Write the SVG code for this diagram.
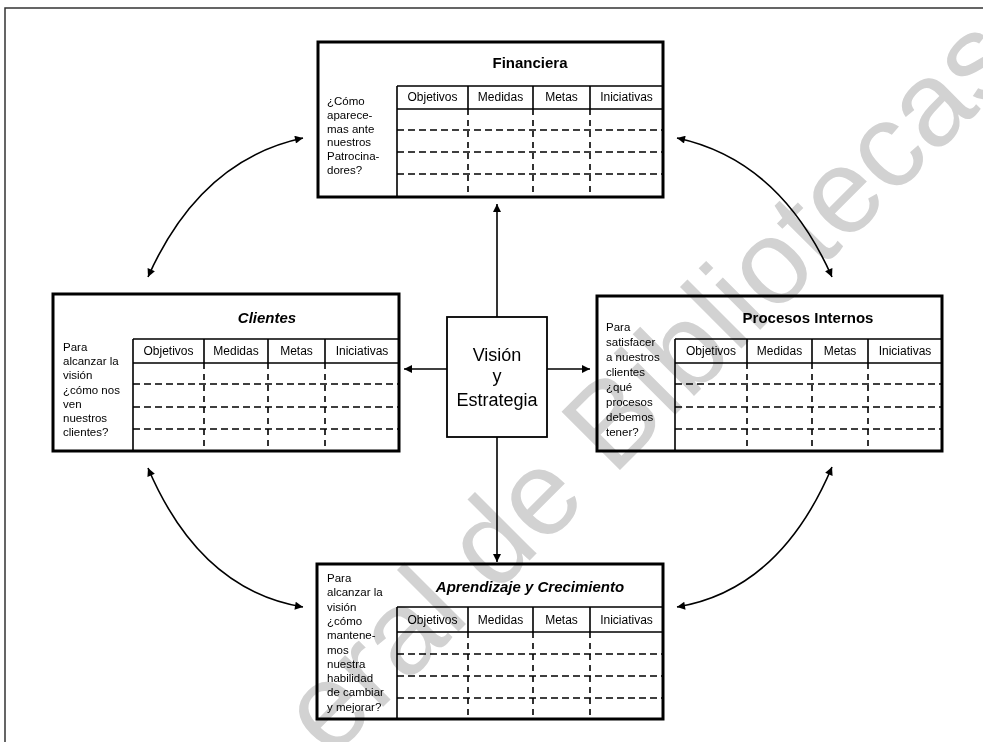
<svg xmlns="http://www.w3.org/2000/svg" width="983" height="742" viewBox="0 0 983 742">
<style>
.box{fill:#fff;stroke:#000;stroke-width:3}
.sol{stroke:#000;stroke-width:1.6;fill:none}
.dh{stroke:#000;stroke-width:1.6;stroke-dasharray:7 4;fill:none}
.dv{stroke:#000;stroke-width:1.6;stroke-dasharray:6 5;fill:none}
.ttl{font-family:"Liberation Sans",Arial,sans-serif;font-size:15px;font-weight:bold;text-anchor:middle;fill:#000}
.hd{font-family:"Liberation Sans",Arial,sans-serif;font-size:12px;text-anchor:middle;fill:#000}
.q{font-family:"Liberation Sans",Arial,sans-serif;font-size:11.5px;fill:#000}
.vis{font-family:"Liberation Sans",Arial,sans-serif;font-size:18px;text-anchor:middle;fill:#000}
.arr{stroke:#000;stroke-width:1.6;fill:none}
.wm{font-family:"Liberation Sans",Arial,sans-serif;font-size:120px;fill:#d2d2d2;mix-blend-mode:multiply}
</style>
<defs>
<marker id="ah" viewBox="0 0 10 10" refX="10" refY="5" markerUnits="userSpaceOnUse" markerWidth="9" markerHeight="8" orient="auto-start-reverse">
<path d="M0,0 L10,5 L0,10 z" fill="#000"/>
</marker>
</defs>
<rect width="983" height="742" fill="#fff"/>
<path d="M5,742 V8 H983" fill="none" stroke="#333" stroke-width="1.5"/>

<g id="connectors">
<line class="arr" x1="497" y1="317" x2="497" y2="204" marker-end="url(#ah)"/>
<line class="arr" x1="497" y1="437" x2="497" y2="562" marker-end="url(#ah)"/>
<line class="arr" x1="447" y1="369" x2="404" y2="369" marker-end="url(#ah)"/>
<line class="arr" x1="547" y1="369" x2="590" y2="369" marker-end="url(#ah)"/>
<path class="arr" d="M148,277 Q200,160 303,138" marker-start="url(#ah)" marker-end="url(#ah)"/>
<path class="arr" d="M677,138 Q780,160 832,277" marker-start="url(#ah)" marker-end="url(#ah)"/>
<path class="arr" d="M148,468 Q200,590 303,607" marker-start="url(#ah)" marker-end="url(#ah)"/>
<path class="arr" d="M677,607 Q780,590 832,467" marker-start="url(#ah)" marker-end="url(#ah)"/>
</g>

<g id="financiera">
<rect class="box" x="318" y="42" width="345" height="155"/>
<path class="sol" d="M397,86 H663 M397,109 H663 M397,86 V197 M468,86 V109 M533,86 V109 M590,86 V109"/>
<path class="dh" d="M397,130 H663 M397,152 H663 M397,174 H663"/>
<path class="dv" d="M468,109 V197 M533,109 V197 M590,109 V197"/>
<text class="ttl" x="530" y="68">Financiera</text>
<text class="hd" x="432.5" y="101">Objetivos</text>
<text class="hd" x="500.5" y="101">Medidas</text>
<text class="hd" x="561.5" y="101">Metas</text>
<text class="hd" x="626.5" y="101">Iniciativas</text>
<text class="q" x="327" y="105"><tspan x="327">¿Cómo</tspan><tspan x="327" dy="13.8">aparece-</tspan><tspan x="327" dy="13.8">mas ante</tspan><tspan x="327" dy="13.8">nuestros</tspan><tspan x="327" dy="13.8">Patrocina-</tspan><tspan x="327" dy="13.8">dores?</tspan></text>
</g>

<g id="clientes">
<rect class="box" x="53" y="294" width="346" height="157"/>
<path class="sol" d="M133,339 H399 M133,363 H399 M133,339 V451 M204,339 V363 M268,339 V363 M325,339 V363"/>
<path class="dh" d="M133,384 H399 M133,407 H399 M133,429 H399"/>
<path class="dv" d="M204,363 V451 M268,363 V451 M325,363 V451"/>
<text class="ttl" x="267" y="323" font-style="italic">Clientes</text>
<text class="hd" x="168.5" y="355">Objetivos</text>
<text class="hd" x="236" y="355">Medidas</text>
<text class="hd" x="296.5" y="355">Metas</text>
<text class="hd" x="362" y="355">Iniciativas</text>
<text class="q" x="63" y="351"><tspan x="63">Para</tspan><tspan x="63" dy="14.2">alcanzar la</tspan><tspan x="63" dy="14.2">visión</tspan><tspan x="63" dy="14.2">¿cómo nos</tspan><tspan x="63" dy="14.2">ven</tspan><tspan x="63" dy="14.2">nuestros</tspan><tspan x="63" dy="14.2">clientes?</tspan></text>
</g>

<g id="procesos">
<rect class="box" x="597" y="296" width="345" height="155"/>
<path class="sol" d="M675,339 H942 M675,363 H942 M675,339 V451 M747,339 V363 M812,339 V363 M868,339 V363"/>
<path class="dh" d="M675,384 H942 M675,407 H942 M675,429 H942"/>
<path class="dv" d="M747,363 V451 M812,363 V451 M868,363 V451"/>
<text class="ttl" x="808" y="323">Procesos Internos</text>
<text class="hd" x="711" y="355">Objetivos</text>
<text class="hd" x="779.5" y="355">Medidas</text>
<text class="hd" x="840" y="355">Metas</text>
<text class="hd" x="905" y="355">Iniciativas</text>
<text class="q" x="606" y="331"><tspan x="606">Para</tspan><tspan x="606" dy="15">satisfacer</tspan><tspan x="606" dy="15">a nuestros</tspan><tspan x="606" dy="15">clientes</tspan><tspan x="606" dy="15">¿qué</tspan><tspan x="606" dy="15">procesos</tspan><tspan x="606" dy="15">debemos</tspan><tspan x="606" dy="15">tener?</tspan></text>
</g>

<g id="aprendizaje">
<rect class="box" x="317" y="564" width="346" height="155"/>
<path class="sol" d="M397,607 H663 M397,632 H663 M397,607 V719 M468,607 V632 M533,607 V632 M590,607 V632"/>
<path class="dh" d="M397,654 H663 M397,676 H663 M397,698 H663"/>
<path class="dv" d="M468,632 V719 M533,632 V719 M590,632 V719"/>
<text class="ttl" x="530" y="592" font-style="italic">Aprendizaje y Crecimiento</text>
<text class="hd" x="432.5" y="624">Objetivos</text>
<text class="hd" x="500.5" y="624">Medidas</text>
<text class="hd" x="561.5" y="624">Metas</text>
<text class="hd" x="626.5" y="624">Iniciativas</text>
<text class="q" x="327" y="582"><tspan x="327">Para</tspan><tspan x="327" dy="14.3">alcanzar la</tspan><tspan x="327" dy="14.3">visión</tspan><tspan x="327" dy="14.3">¿cómo</tspan><tspan x="327" dy="14.3">mantene-</tspan><tspan x="327" dy="14.3">mos</tspan><tspan x="327" dy="14.3">nuestra</tspan><tspan x="327" dy="14.3">habilidad</tspan><tspan x="327" dy="14.3">de cambiar</tspan><tspan x="327" dy="14.3">y mejorar?</tspan></text>
</g>

<g id="vision">
<rect x="447" y="317" width="100" height="120" fill="#fff" stroke="#000" stroke-width="1.8"/>
<text class="vis" x="497" y="361">Visión</text>
<text class="vis" x="497" y="382">y</text>
<text class="vis" x="497" y="406">Estrategia</text>
</g>

<text class="wm" x="330" y="760" transform="rotate(-45 330 760)">eral de Bibliotecas</text>
</svg>
